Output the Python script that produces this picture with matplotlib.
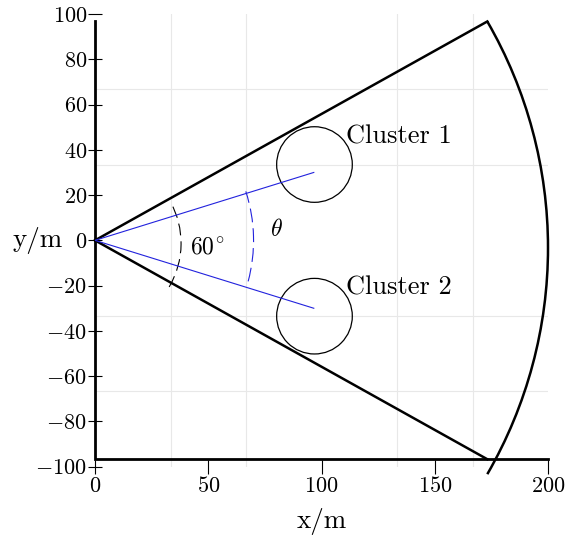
import numpy as np
import matplotlib.pyplot as plt
from matplotlib.patches import Arc, Circle
from matplotlib.ticker import FuncFormatter

plt.rcParams['font.family'] = 'cmr10'
plt.rcParams['mathtext.fontset'] = 'cm'
plt.rcParams['lines.scale_dashes'] = False

# data (metres)
x_ticks = [0, 50, 100, 150, 200]
y_ticks = [-100, -80, -60, -40, -20, 0, 20, 40, 60, 80, 100]
frame_top = 97.0
frame_bottom = -96.8
sector_edges = [(173.2, 96.7), (173.2, -96.7)]
coverage_radius = 200
coverage_center_y = -3.3
coverage_angles = (-30, 30)
cluster_centers = [(96.9, 33.5), (96.9, -33.5)]
cluster_radius = 16.7
cluster_names = ['Cluster 1', 'Cluster 2']
beam_ends = [(96.6, 30.0), (96.6, -30.0)]
sector_mark_radius = 38
sector_mark_center_y = -1.3
sector_mark_angles = (-30.5, 29)
theta_mark_radius = 70
theta_mark_angles = (-15, 18)

fig = plt.figure(figsize=(5.66, 5.38), dpi=100)
ax = fig.add_axes([95/566, (538-466.7)/538, 453/566, 452.7/538])
ax.set_xlim(0, 200)
ax.set_ylim(-100, 100)
for s in ax.spines.values():
    s.set_visible(False)

# light grid
ax.set_xticks(np.linspace(0, 200, 7), minor=True)
ax.set_yticks(np.linspace(-100, 100, 7), minor=True)
ax.grid(which='minor', color='#e8e8e8', lw=0.8)
ax.set_axisbelow(True)
ax.tick_params(which='minor', length=0)

ax.set_xticks(x_ticks)
ax.set_yticks(y_ticks)
fmt = FuncFormatter(lambda v, p: r'$%d$' % v)
ax.xaxis.set_major_formatter(fmt)
ax.yaxis.set_major_formatter(fmt)
ax.tick_params(which='major', direction='inout', length=9.4, width=0.8,
               labelsize=16, pad=1)
ax.tick_params(axis='x', pad=2)

# axis frame
ax.plot([0, 0, 200], [frame_top, frame_bottom, frame_bottom], color='black',
        lw=2, solid_joinstyle='miter', clip_on=False)

# coverage sector
for ex, ey in sector_edges:
    ax.plot([0, ex], [0, ey], color='black', lw=1.8, clip_on=False)
ax.add_patch(Arc((0, coverage_center_y), 2*coverage_radius, 2*coverage_radius,
                 theta1=coverage_angles[0], theta2=coverage_angles[1],
                 color='black', lw=1.8, clip_on=False))

# clusters
for (cx, cy), name in zip(cluster_centers, cluster_names):
    ax.add_patch(Circle((cx, cy), cluster_radius, fill=False, color='black', lw=0.9))
ax.text(110.8, 42.7, cluster_names[0], fontsize=19, va='baseline')
ax.text(110.8, -23.9, cluster_names[1], fontsize=19, va='baseline')

# beams
for bx, by in beam_ends:
    ax.plot([0, bx], [0, by], color='#2222dd', lw=0.8)

ax.add_patch(Arc((0, sector_mark_center_y), 2*sector_mark_radius, 2*sector_mark_radius,
                 theta1=sector_mark_angles[0], theta2=sector_mark_angles[1],
                 color='black', lw=0.8, linestyle=(0, (8.6, 4.3))))
ax.add_patch(Arc((0, 0), 2*theta_mark_radius, 2*theta_mark_radius,
                 theta1=theta_mark_angles[0], theta2=theta_mark_angles[1],
                 color='#2222dd', lw=0.8, linestyle=(0, (10, 4.3))))
ax.text(41.9, -6.0, r'$60^{\!\circ}$', fontsize=17, va='baseline')
ax.text(80, 4.6, r'$\theta$', fontsize=17, ha='center', va='center')

ax.set_xlabel('x/m', fontsize=19.5, va='center')
ax.xaxis.set_label_coords(0.5, -0.12)
ax.set_ylabel('y/m', fontsize=19.5, rotation=0, ha='right', va='center')
ax.yaxis.set_label_coords(-0.0706, 0.5)

fig.savefig('out.png', dpi=100)
